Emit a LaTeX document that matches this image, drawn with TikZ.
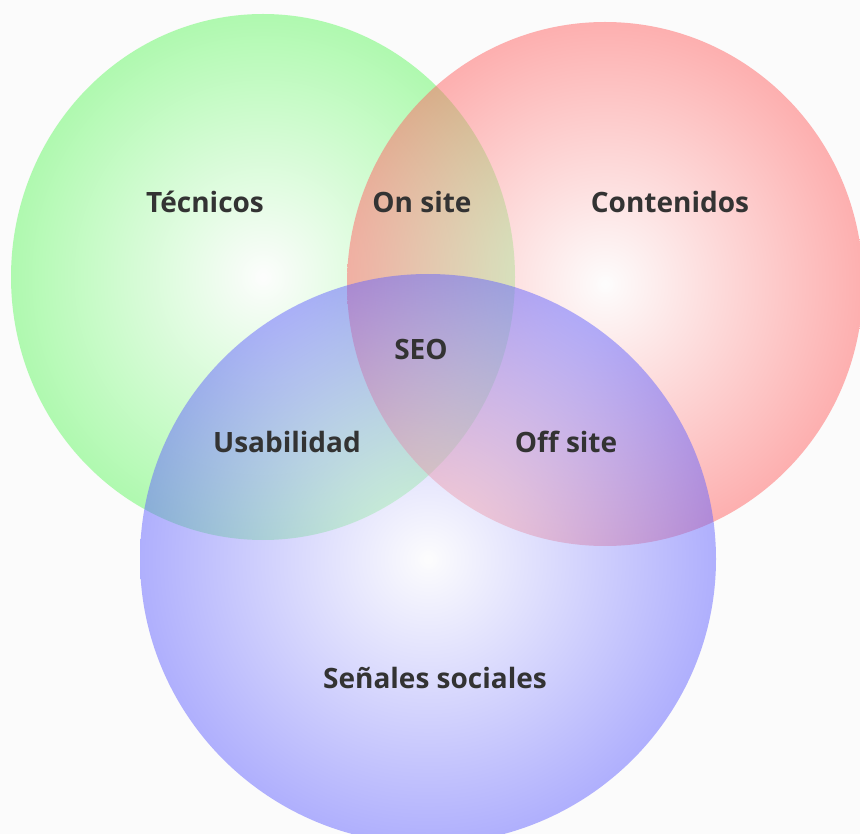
\documentclass[tikz,border=0pt]{standalone}
\usepackage{fontspec}
\setmainfont{Open Sans}
\definecolor{bg}{HTML}{FBFBFB}
\definecolor{verde}{RGB}{101,249,101}
\definecolor{rojo}{RGB}{255,101,101}
\definecolor{azul}{RGB}{101,101,255}
\definecolor{texto}{HTML}{333333}
\tikzset{
  set/.style={inner color=white, outer color=#1, fill opacity=0.5},
  etiqueta/.style={text=texto, font=\fontsize{28}{32}\selectfont\bfseries}
}
\begin{document}
\begin{tikzpicture}[x=1pt, y=-1pt]
  \fill[bg] (0,0) rectangle (860,834);
  \useasboundingbox (0,0) rectangle (860,834);
  \shade[set=verde] (263,277) ellipse [x radius=252, y radius=263];
  \shade[set=rojo] (605,284) ellipse [x radius=258, y radius=262];
  \shade[set=azul] (428,559) ellipse [x radius=288, y radius=285];
  \node[etiqueta] (tecnicos) at (205,202) {Técnicos};
  \node[etiqueta] (onsite) at (422,202) {On site};
  \node[etiqueta] (contenidos) at (670,202) {Contenidos};
  \node[etiqueta] (seo) at (421,349) {SEO};
  \node[etiqueta] (usabilidad) at (287,442) {Usabilidad};
  \node[etiqueta] (offsite) at (566,442) {Off site};
  \node[etiqueta] (senales) at (435,678) {Señales sociales};
\end{tikzpicture}
\end{document}
